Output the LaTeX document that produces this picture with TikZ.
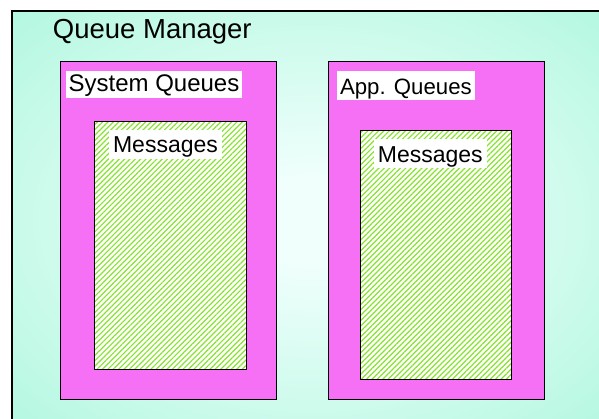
\documentclass[tikz,border=0pt]{standalone}
\usepackage{fontspec}
\setmainfont{Liberation Sans}
\usetikzlibrary{patterns.meta}
\definecolor{mintout}{RGB}{160,245,215}
\definecolor{mintin}{RGB}{240,255,252}
\definecolor{qpink}{RGB}{246,112,246}
\definecolor{msggreen}{RGB}{135,228,45}
\pgfdeclareradialshading{bgshade}{\pgfpoint{0bp}{0bp}}{color(0bp)=(mintin); color(5bp)=(mintin); color(45bp)=(mintout); color(50bp)=(mintout)}
\tikzset{
  qframe/.style={draw=black, line width=1.5pt, shading=bgshade, anchor=north west, inner sep=0pt},
  queuebox/.style={draw=black, line width=1.3pt, fill=qpink, anchor=north west, inner sep=0pt},
  msgbox/.style={draw=black, line width=1.3pt, preaction={fill=white},
     pattern={Lines[angle=45,distance=3.8pt,line width=1.2pt]}, pattern color=msggreen,
     anchor=north west, inner sep=0pt},
  lbl/.style={fill=white, inner ysep=0pt, anchor=base, text=black}
}
\begin{document}
\begin{tikzpicture}[x=1pt,y=-1pt]
\useasboundingbox (0,0) rectangle (599,418);
\clip (0,0) rectangle (599,418);
\node[qframe, minimum width=600pt, minimum height=420pt] (qm) at (11,10) {};
\node[anchor=base, inner sep=0pt, font=\fontsize{27.5}{32}\selectfont] (qmlabel) at (152.3,38) {Queue Manager};
\node[queuebox, minimum width=216pt, minimum height=338pt] (sq) at (60,61) {};
\node[queuebox, minimum width=216.3pt, minimum height=338pt] (aq) at (327.7,61) {};
\node[msgbox, minimum width=151.7pt, minimum height=248.3pt] (m1) at (94,120.7) {};
\node[msgbox, minimum width=151.2pt, minimum height=249pt] (m2) at (359.5,130) {};
\node[lbl, text height=21pt, text depth=6.6pt, inner xsep=2.5pt, font=\fontsize{24}{28}\selectfont] (sql) at (154,91.7) {System Queues};
\node[lbl, text height=23.3pt, text depth=6pt, inner xsep=2.8pt, font=\fontsize{22.2}{26}\selectfont] (aql) at (405.9,94) {App. Queues};
\node[lbl, text height=22.2pt, text depth=6.3pt, inner xsep=4pt, font=\fontsize{23}{27}\selectfont] (m1l) at (165.5,152.5) {Messages};
\node[lbl, text height=23pt, text depth=6pt, inner xsep=4pt, font=\fontsize{23}{27}\selectfont] (m2l) at (430.3,162) {Messages};
\end{tikzpicture}
\end{document}
